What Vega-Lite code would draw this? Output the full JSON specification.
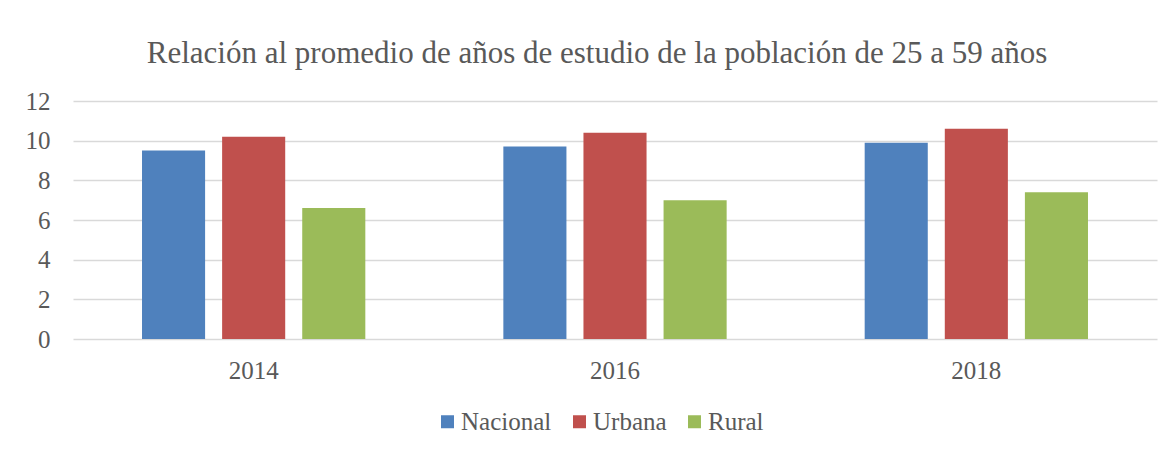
{
  "$schema": "https://vega.github.io/schema/vega-lite/v6.json",
  "autosize": {"type": "none"},
  "padding": {"left": 73, "top": 101, "right": 15, "bottom": 112},
  "width": 1084,
  "height": 238,
  "background": "white",
  "title": {
    "text": "Relación al promedio de años de estudio de la población de 25 a 59 años",
    "font": "Liberation Serif",
    "fontSize": 31,
    "fontWeight": "normal",
    "color": "#595959",
    "anchor": "middle",
    "dx": -18,
    "offset": 19
  },
  "data": {
    "values": [
      {"anio": "2014", "area": "Nacional", "valor": 9.5},
      {"anio": "2014", "area": "Urbana", "valor": 10.2},
      {"anio": "2014", "area": "Rural", "valor": 6.6},
      {"anio": "2016", "area": "Nacional", "valor": 9.7},
      {"anio": "2016", "area": "Urbana", "valor": 10.4},
      {"anio": "2016", "area": "Rural", "valor": 7.0},
      {"anio": "2018", "area": "Nacional", "valor": 9.9},
      {"anio": "2018", "area": "Urbana", "valor": 10.6},
      {"anio": "2018", "area": "Rural", "valor": 7.4}
    ]
  },
  "mark": {"type": "bar"},
  "encoding": {
    "x": {
      "field": "anio",
      "type": "nominal",
      "title": null,
      "scale": {"paddingInner": 0.382, "paddingOuter": 0.191},
      "axis": {
        "labelAngle": 0,
        "domain": false,
        "ticks": false,
        "labelFontSize": 25,
        "labelColor": "#595959",
        "labelPadding": 19
      }
    },
    "xOffset": {
      "field": "area",
      "type": "nominal",
      "sort": ["Nacional", "Urbana", "Rural"],
      "scale": {"paddingInner": 0.2125, "paddingOuter": 0}
    },
    "y": {
      "field": "valor",
      "type": "quantitative",
      "title": null,
      "scale": {"domain": [0, 12], "nice": false},
      "axis": {
        "values": [0, 2, 4, 6, 8, 10, 12],
        "domain": false,
        "ticks": false,
        "labelFontSize": 25,
        "labelColor": "#595959",
        "labelPadding": 23,
        "gridColor": "#D9D9D9",
        "gridWidth": 1.5
      }
    },
    "color": {
      "field": "area",
      "type": "nominal",
      "sort": ["Nacional", "Urbana", "Rural"],
      "scale": {
        "domain": ["Nacional", "Urbana", "Rural"],
        "range": ["#4F81BD", "#C0504D", "#9BBB59"]
      },
      "legend": {
        "title": null,
        "orient": "none",
        "direction": "horizontal",
        "legendX": 362,
        "legendY": 308,
        "symbolType": "square",
        "symbolSize": 169,
        "symbolStrokeWidth": 0,
        "symbolOpacity": 1,
        "labelFont": "Liberation Serif",
        "labelFontSize": 25,
        "labelColor": "#595959",
        "labelOffset": 1,
        "columnPadding": 15
      }
    }
  },
  "config": {
    "font": "Liberation Serif",
    "view": {"stroke": null}
  }
}
